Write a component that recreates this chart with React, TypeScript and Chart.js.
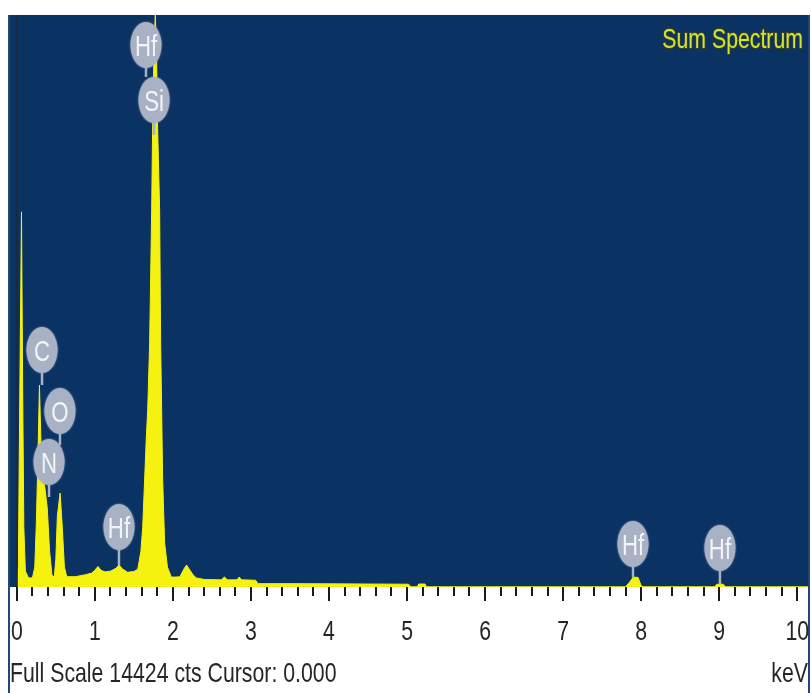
import React, { useEffect, useRef } from "react";
import { Chart, registerables } from "chart.js";

Chart.register(...registerables);

// Sum spectrum: energy (keV) and counts at each sampled channel
const energyKeV = [
  0.0, 0.02, 0.04, 0.06, 0.075, 0.09, 0.11, 0.15, 0.2, 0.23,
  0.25, 0.27, 0.29, 0.31, 0.33, 0.36, 0.39, 0.42, 0.45, 0.48,
  0.5, 0.52, 0.555, 0.58, 0.61, 0.64, 0.75, 0.88, 0.96, 1.0,
  1.04, 1.08, 1.13, 1.2, 1.27, 1.31, 1.35, 1.42, 1.5, 1.55,
  1.59, 1.613, 1.639, 1.66, 1.677, 1.702, 1.728, 1.74, 1.76, 1.775,
  1.79, 1.804, 1.83, 1.843, 1.856, 1.868, 1.894, 1.93, 1.98, 2.04,
  2.09, 2.14, 2.175, 2.21, 2.26, 2.3, 2.4, 2.62, 2.66, 2.7,
  2.82, 2.85, 2.88, 3.06, 3.09, 3.5, 4.0, 4.5, 5.02, 5.05,
  5.13, 5.15, 5.23, 5.25, 7.8, 7.85, 7.9, 7.96, 8.0, 8.03,
  8.94, 8.97, 9.05, 9.08, 10.15,
];
const countsCts = [
  0, 600, 5200, 9460, 5000, 1500, 400, 230, 230, 500,
  1600, 3200, 5090, 3600, 2800, 2500, 2000, 900, 300, 250,
  700, 1800, 2370, 1600, 500, 260, 260, 310, 350, 420,
  520, 420, 380, 400, 470, 560, 460, 370, 390, 450,
  900, 1500, 2770, 3800, 4460, 6150, 9510, 11600, 13800, 14424,
  13500, 11600, 9510, 6150, 4460, 2770, 1110, 500, 250, 250,
  260, 450, 555, 450, 300, 230, 190, 180, 250, 180,
  180, 250, 180, 170, 85, 85, 80, 75, 70, 5,
  5, 75, 75, 5, 5, 120, 250, 240, 30, 5,
  5, 70, 70, 5, 5,
];

const fullScaleCts = 14424;
const cursorKeV = 0;
const axisMinKeV = -0.1;
const axisMaxKeV = 10.15;

const majorTickKeV = [0, 1, 2, 3, 4, 5, 6, 7, 8, 9, 10];
const majorTickLabels = ["0", "1", "2", "3", "4", "5", "6", "7", "8", "9", "10"];
const minorTickStepKeV = 0.2;

// Element markers: symbol, line energy, bubble height and stem end (in counts)
const markerSymbols = ["Hf", "Si", "C", "O", "N", "Hf", "Hf", "Hf"];
const markerKeV = [1.655, 1.758, 0.323, 0.553, 0.413, 1.309, 7.895, 9.009];
const markerCts = [13669, 12282, 5977, 4439, 3153, 1513, 1084, 984];
const markerStemCts = [12862, 11400, 5094, 3581, 2270, 555, 227, 76];

const spectrumTitle = "Sum Spectrum";
const footerLeft = "Full Scale 14424 cts Cursor: 0.000";
const footerRight = "keV";

const SANS = '"Liberation Sans", Arial, sans-serif';
const PLOT_BG = "#0a3263";
const SPECTRUM = "#f5f20f";
const BUBBLE = "#a8b2c4";
const INK = "#262626";

const tickValues: number[] = [];
for (let i = 0; i <= 50; i++) tickValues.push(Math.round(i * minorTickStepKeV * 10) / 10);

// Arial-style text squeezed horizontally to a narrow face
function narrowText(ctx: CanvasRenderingContext2D, text: string, x: number, y: number, size: number, squeeze: number, align: CanvasTextAlign) {
  ctx.save();
  ctx.font = `${size}px ${SANS}`;
  ctx.translate(x, y);
  ctx.scale(squeeze, 1);
  ctx.textAlign = align;
  ctx.textBaseline = "alphabetic";
  ctx.fillText(text, 0, 0);
  ctx.restore();
}

const spectrumPlugin = {
  id: "spectrumDecor",
  beforeDraw(chart: any) {
    const { ctx, chartArea } = chart;
    ctx.save();
    ctx.fillStyle = "#ffffff";
    ctx.fillRect(0, 0, chart.width, chart.height);
    ctx.fillStyle = PLOT_BG;
    ctx.fillRect(chartArea.left, chartArea.top, chartArea.right - chartArea.left, chartArea.bottom - chartArea.top);
    ctx.restore();
  },
  afterDatasetsDraw(chart: any) {
    const { ctx, chartArea, scales } = chart;
    const xs = scales.x;
    const ys = scales.y;
    ctx.save();
    ctx.beginPath();
    ctx.rect(chartArea.left, chartArea.top, chartArea.right - chartArea.left, chartArea.bottom - chartArea.top);
    ctx.clip();

    // cursor line
    const cx = xs.getPixelForValue(cursorKeV);
    ctx.strokeStyle = "#1c2a40";
    ctx.lineWidth = 2;
    ctx.beginPath();
    ctx.moveTo(cx, chartArea.top);
    ctx.lineTo(cx, chartArea.bottom);
    ctx.stroke();

    // marker stems
    ctx.strokeStyle = BUBBLE;
    ctx.lineWidth = 2.5;
    markerSymbols.forEach((_, i) => {
      const x = xs.getPixelForValue(markerKeV[i]);
      ctx.beginPath();
      ctx.moveTo(x, ys.getPixelForValue(markerCts[i]));
      ctx.lineTo(x, ys.getPixelForValue(markerStemCts[i]));
      ctx.stroke();
    });

    // marker bubbles
    markerSymbols.forEach((sym, i) => {
      const x = xs.getPixelForValue(markerKeV[i]);
      const y = ys.getPixelForValue(markerCts[i]);
      ctx.fillStyle = BUBBLE;
      ctx.shadowColor = BUBBLE;
      ctx.shadowBlur = 2;
      ctx.beginPath();
      ctx.ellipse(x, y, 15.5, 23, 0, 0, Math.PI * 2);
      ctx.fill();
      ctx.shadowBlur = 0;
      ctx.fillStyle = "#f2f5f8";
      narrowText(ctx, sym, x, y + 11, 30, 0.74, "center");
    });

    // spectrum name
    ctx.save();
    ctx.font = `28px ${SANS}`;
    ctx.translate(chartArea.right - 6, 48);
    ctx.scale(0.76, 1);
    ctx.textAlign = "right";
    ctx.lineWidth = 2;
    ctx.strokeStyle = "#3a4620";
    ctx.strokeText(spectrumTitle, 0, 0);
    ctx.fillStyle = "#d6e234";
    ctx.fillText(spectrumTitle, 0, 0);
    ctx.restore();
    ctx.restore();
  },
  afterDraw(chart: any) {
    const { ctx, chartArea, scales } = chart;
    const xs = scales.x;
    ctx.save();
    // tick marks and labels from the energy scale
    ctx.strokeStyle = "#1a1a1a";
    ctx.lineWidth = 2;
    tickValues.forEach((v) => {
      const x = Math.round(xs.getPixelForValue(v));
      const major = majorTickKeV.includes(v);
      ctx.beginPath();
      ctx.moveTo(x, chartArea.bottom);
      ctx.lineTo(x, chartArea.bottom + (major ? 14 : 9));
      ctx.stroke();
    });
    ctx.fillStyle = INK;
    majorTickKeV.forEach((v, i) => {
      narrowText(ctx, majorTickLabels[i], xs.getPixelForValue(v), 640, 28, 0.76, "center");
    });
    // frame
    ctx.strokeStyle = "#23457a";
    ctx.lineWidth = 2;
    ctx.beginPath();
    ctx.moveTo(chartArea.left, chartArea.top);
    ctx.lineTo(chartArea.left, chart.height);
    ctx.moveTo(chartArea.right, chartArea.top);
    ctx.lineTo(chartArea.right, chart.height);
    ctx.stroke();
    // footer
    ctx.fillStyle = INK;
    narrowText(ctx, footerLeft, chartArea.left + 1, 682, 28, 0.76, "left");
    narrowText(ctx, footerRight, chartArea.right - 1, 682, 28, 0.76, "right");
    ctx.restore();
  },
};

export default function App() {
  const ref = useRef<HTMLCanvasElement>(null);

  useEffect(() => {
    const points = energyKeV.map((e, i) => ({ x: e, y: countsCts[i] }));
    const chart = new Chart(ref.current as HTMLCanvasElement, {
      type: "line",
      data: {
        datasets: [
          {
            data: points,
            borderColor: SPECTRUM,
            backgroundColor: SPECTRUM,
            borderWidth: 1,
            fill: "origin",
            pointRadius: 0,
            tension: 0,
          },
        ],
      },
      options: {
        animation: false,
        responsive: false,
        devicePixelRatio: 1,
        layout: { padding: { left: 9, right: 2, top: 15, bottom: 106 } },
        plugins: { legend: { display: false }, tooltip: { enabled: false } },
        scales: {
          x: { type: "linear", display: false, min: axisMinKeV, max: axisMaxKeV },
          y: { display: false, min: 0, max: fullScaleCts },
        },
      },
      plugins: [spectrumPlugin],
    } as any);
    return () => chart.destroy();
  }, []);

  return (
    <div style={{ position: "absolute", left: 0, top: 0, width: 811, height: 693, background: "#fff" }}>
      <canvas ref={ref} width={811} height={693} style={{ display: "block", width: 811, height: 693 }} />
    </div>
  );
}
